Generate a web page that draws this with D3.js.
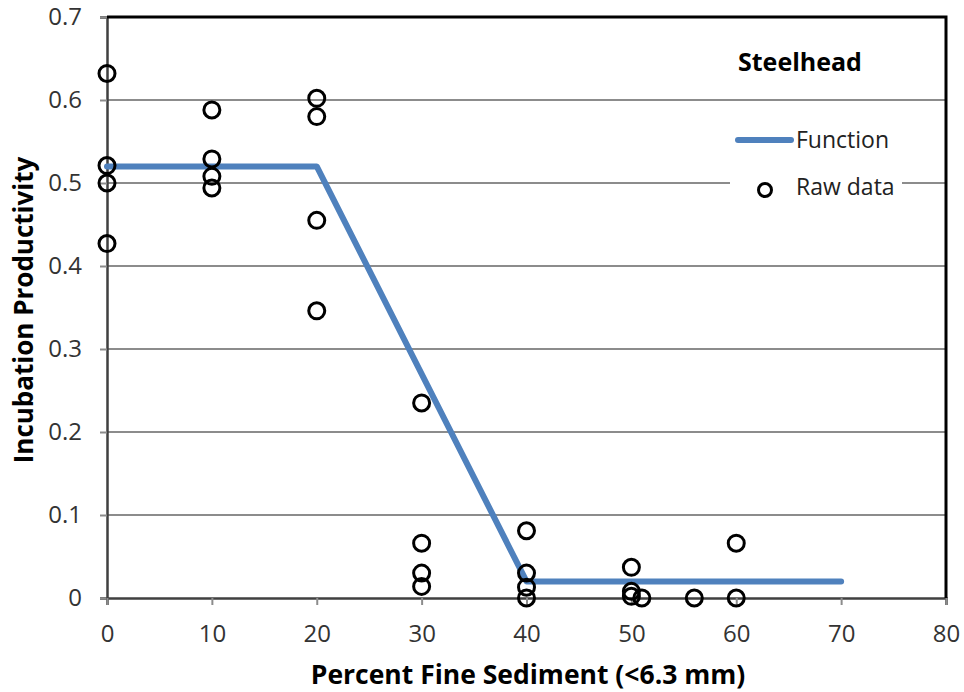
<!DOCTYPE html>
<html>
<head>
<meta charset="utf-8">
<script src="https://cdn.jsdelivr.net/npm/d3@7"></script>
<style>
  body { margin: 0; background: #fff; }
  svg { font-family: "Open Sans", "DejaVu Sans", sans-serif; }
</style>
</head>
<body>
<script>
// raw observations (percent fines, productivity)
const rawX = [0, 0, 0, 0, 10, 10, 10, 10, 20, 20, 20, 20, 30, 30, 30, 30,
              40, 40, 40, 40, 50, 50, 50, 51, 56, 60, 60];
const rawY = [0.632, 0.521, 0.5, 0.427, 0.588, 0.529, 0.508, 0.494,
              0.602, 0.58, 0.455, 0.346, 0.235, 0.066, 0.03, 0.014,
              0.081, 0.03, 0.013, 0, 0.037, 0.008, 0.002, 0, 0, 0.066, 0];
// fitted function
const fnX = [0, 20, 40, 70];
const fnY = [0.52, 0.52, 0.02, 0.02];
const xTicks = [0, 10, 20, 30, 40, 50, 60, 70, 80];
const yTicks = [0, 0.1, 0.2, 0.3, 0.4, 0.5, 0.6, 0.7];

const w = 964, h = 692;
const pLeft = 107, pRight = 946, pTop = 17, pBottom = 598;

const svg = d3.select("body").append("svg")
    .attr("width", w)
    .attr("height", h);

const x = d3.scaleLinear().domain([0, 80]).range([pLeft, pRight]);
const y = d3.scaleLinear().domain([0, 0.7]).range([pBottom, pTop]);

// gridlines
svg.append("g")
   .selectAll("line")
   .data(yTicks.filter(d => d > 0 && d < 0.7))
   .enter().append("line")
   .attr("x1", pLeft).attr("x2", pRight)
   .attr("y1", d => y(d)).attr("y2", d => y(d))
   .attr("stroke", "#8c8c8c")
   .attr("stroke-width", 2);

// y axis
const yAxis = svg.append("g")
   .attr("transform", `translate(${pLeft},0)`)
   .call(d3.axisLeft(y).tickValues(yTicks).tickSize(7).tickPadding(18)
         .tickFormat(d => d === 0 ? "0" : d3.format(".1f")(d)))
   .attr("font-family", "'Open Sans', sans-serif");
yAxis.select(".domain").attr("stroke", "#404040").attr("stroke-width", 2.5);
yAxis.selectAll(".tick line").attr("stroke", "#8c8c8c").attr("stroke-width", 2);
yAxis.selectAll("text").attr("font-size", 24).attr("fill", "#333");

// x axis
const xAxis = svg.append("g")
   .attr("transform", `translate(0,${pBottom})`)
   .call(d3.axisBottom(x).tickValues(xTicks).tickSize(7).tickPadding(20))
   .attr("font-family", "'Open Sans', sans-serif");
xAxis.select(".domain").attr("stroke", "#404040").attr("stroke-width", 2.5);
xAxis.selectAll(".tick line").attr("stroke", "#8c8c8c").attr("stroke-width", 2);
xAxis.selectAll("text").attr("font-size", 24).attr("fill", "#333");

// top and right border
svg.append("path")
   .attr("d", `M${pLeft},${pTop}H${pRight}V${pBottom}`)
   .attr("fill", "none")
   .attr("stroke", "#000")
   .attr("stroke-width", 3);

// legend box
svg.append("rect")
   .attr("x", 730).attr("y", 112)
   .attr("width", 172).attr("height", 100)
   .attr("fill", "#fff");

// function line
const line = d3.line().x(d => x(d[0])).y(d => y(d[1]));
svg.append("path")
   .datum(d3.zip(fnX, fnY))
   .attr("d", line)
   .attr("fill", "none")
   .attr("stroke", "#4f81bd")
   .attr("stroke-width", 6)
   .attr("stroke-linecap", "round")
   .attr("stroke-linejoin", "round");

// raw data
svg.append("g")
   .selectAll("circle")
   .data(d3.zip(rawX, rawY))
   .enter().append("circle")
   .attr("cx", d => x(d[0]))
   .attr("cy", d => y(d[1]))
   .attr("r", 8)
   .attr("fill", "none")
   .attr("stroke", "#000")
   .attr("stroke-width", 3);

// legend
svg.append("text")
   .attr("x", 738).attr("y", 71)
   .attr("font-size", 25).attr("font-weight", "bold")
   .text("Steelhead");
svg.append("line")
   .attr("x1", 738).attr("x2", 791)
   .attr("y1", 140).attr("y2", 140)
   .attr("stroke", "#4f81bd").attr("stroke-width", 6)
   .attr("stroke-linecap", "round");
svg.append("text")
   .attr("x", 796).attr("y", 148)
   .attr("font-size", 23).attr("fill", "#222")
   .text("Function");
svg.append("circle")
   .attr("cx", 765).attr("cy", 190).attr("r", 6.5)
   .attr("fill", "none").attr("stroke", "#000").attr("stroke-width", 3);
svg.append("text")
   .attr("x", 796).attr("y", 195)
   .attr("font-size", 23).attr("fill", "#222")
   .text("Raw data");

// axis titles
svg.append("text")
   .attr("x", 528).attr("y", 684)
   .attr("text-anchor", "middle")
   .attr("font-size", 26.5).attr("font-weight", "bold")
   .text("Percent Fine Sediment (<6.3 mm)");
svg.append("text")
   .attr("transform", "translate(33,310) rotate(-90)")
   .attr("text-anchor", "middle")
   .attr("font-size", 26).attr("font-weight", "bold")
   .text("Incubation  Productivity");
</script>
</body>
</html>
